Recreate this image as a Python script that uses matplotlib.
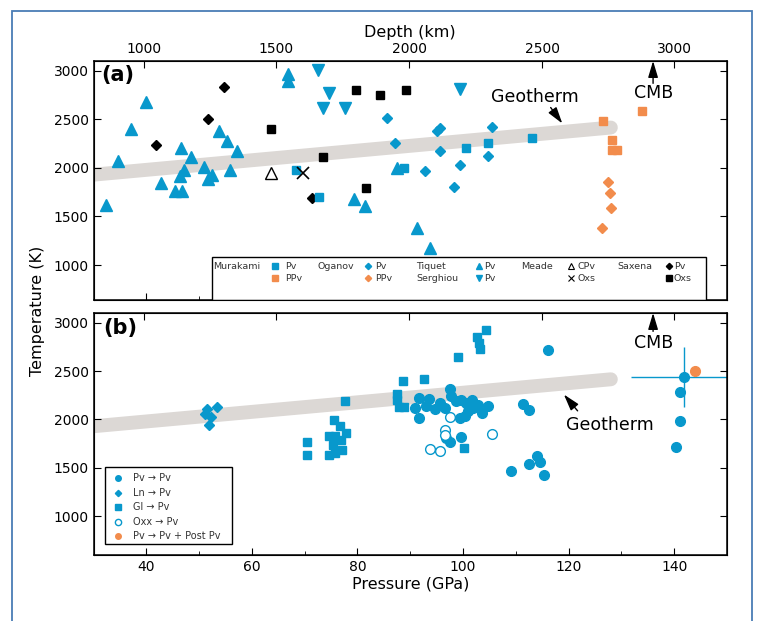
import matplotlib
matplotlib.use('Agg')
import matplotlib.pyplot as plt
from matplotlib.patches import Rectangle
from matplotlib.ticker import MultipleLocator

plt.rcParams['font.family'] = ['DejaVu Sans']

BLUE = '#0898cc'
ORANGE = '#f28c4c'
BAND = '#dcd8d5'

# depth axis (km) and the pressure it sits at
depth_km = [1000, 1500, 2000, 2500, 3000]
depth_gpa = [39.6, 64.6, 89.8, 115.0, 140.0]

geotherm_p = [30, 128]
geotherm_t = [1930, 2415]

# ---- panel (a) ----
murakami_pv_p = [68.4, 72.7, 88.9, 100.5, 104.7, 113.0]
murakami_pv_t = [1975, 1702, 2000, 2204, 2252, 2303]
murakami_ppv_p = [126.5, 133.9, 128.3, 128.2, 129.2]
murakami_ppv_t = [2483, 2586, 2284, 2187, 2187]

oganov_pv_p = [85.6, 87.1, 95.0, 95.6, 95.6, 92.8, 99.4, 98.3, 105.5, 104.7]
oganov_pv_t = [2511, 2252, 2380, 2410, 2177, 1965, 2027, 1808, 2416, 2126]
oganov_ppv_p = [127.5, 127.8, 128.0, 126.4]
oganov_ppv_t = [1850, 1742, 1589, 1380]

tiquet_pv_p = [32.3, 34.6, 37.1, 39.9, 42.7, 45.4, 46.7, 46.5, 47.1, 46.4, 48.4, 51.0, 51.7,
               52.5, 53.7, 55.2, 55.8, 57.2, 66.9, 66.9, 87.4, 79.3, 81.4, 91.3, 93.7]
tiquet_pv_t = [1617, 2075, 2403, 2675, 1845, 1760, 1760, 2204, 1983, 1914, 2109, 2013, 1890,
               1924, 2375, 2280, 1979, 2170, 2962, 2894, 2000, 1681, 1603, 1384, 1179]
serghiou_pv_p = [72.5, 74.6, 73.5, 77.6, 99.4]
serghiou_pv_t = [3007, 2768, 2614, 2614, 2808]

meade_cpv_p = [63.6]
meade_cpv_t = [1942]
meade_oxs_p = [69.7]
meade_oxs_t = [1942]

saxena_pv_p = [41.9, 51.6, 54.7, 71.3]
saxena_pv_t = [2232, 2508, 2836, 1692]
saxena_oxs_p = [63.6, 79.7, 84.2, 89.1, 73.5, 81.6]
saxena_oxs_t = [2403, 2802, 2751, 2802, 2109, 1794]

# ---- panel (b) ----
pv_pv_p = [90.8, 91.6, 91.6, 93.5, 93.0, 94.6, 95.6, 96.5, 97.6, 97.8, 98.7, 99.7, 100.6,
           101.6, 100.9, 101.9, 102.8, 103.5, 104.7, 99.4, 100.4, 99.6, 97.6, 96.8,
           109.0, 112.4, 116.0, 111.3, 112.4, 114.0, 114.5, 115.3,
           141.9, 141.1, 141.1, 140.3]
pv_pv_t = [2120, 2224, 2017, 2213, 2137, 2103, 2172, 2120, 2310, 2240, 2189, 2206, 2172,
           2206, 2085, 2120, 2154, 2069, 2144, 2017, 2034, 1820, 1764, 1810,
           1470, 1545, 2714, 2160, 2101, 1619, 1560, 1430,
           2441, 2286, 1985, 1713]
ln_pv_p = [51.4, 53.3, 52.2, 51.8, 51.2]
ln_pv_t = [2103, 2130, 2030, 1945, 2060]
gl_pv_p = [70.5, 70.5, 75.6, 76.6, 77.9, 74.6, 75.7, 76.8, 75.4, 77.0, 74.6, 75.7, 77.6,
           88.6, 92.6, 99.0, 102.6, 103.0, 103.2, 104.3, 100.2, 87.4, 87.5, 88.8, 87.8]
gl_pv_t = [1766, 1630, 1992, 1937, 1862, 1826, 1826, 1792, 1740, 1689, 1637, 1654, 2189,
           2396, 2413, 2648, 2855, 2793, 2731, 2920, 1706, 2265, 2200, 2130, 2130]
oxx_pv_p = [97.6, 96.5, 96.5, 93.7, 95.7, 105.5]
oxx_pv_t = [2027, 1896, 1844, 1696, 1671, 1851]
pv_ppv_p = [144.0]
pv_ppv_t = [2497]

# error bar on the highest-pressure Pv point
err_p, err_t = 141.9, 2441
err_dp, err_dt = 10, 310


fig = plt.figure(figsize=(7.59, 6.21), dpi=100)
ax_a = fig.add_axes([0.1233, 0.5169, 0.8345, 0.3849])
ax_b = fig.add_axes([0.1233, 0.1063, 0.8345, 0.3897])

# blue frame round the figure
fig.patches.append(Rectangle((11.7 / 759, -0.02), (752 - 11.7) / 759, 1 - 11 / 621 + 0.02,
                             transform=fig.transFigure, fill=False, ec='#4a7db5', lw=1.3))

for ax, ylo in [(ax_a, 640), (ax_b, 600)]:
    ax.plot(geotherm_p, geotherm_t, color=BAND, lw=10, solid_capstyle='round', zorder=1)
    ax.set_xlim(30, 150)
    ax.set_ylim(ylo, 3100)
    ax.set_yticks([1000, 1500, 2000, 2500, 3000])
    ax.xaxis.set_major_locator(MultipleLocator(20))
    ax.xaxis.set_minor_locator(MultipleLocator(10))
    ax.tick_params(which='both', direction='in', right=True, labelsize=10)
    ax.tick_params(which='major', length=5)
    ax.tick_params(which='minor', length=3)
    for s in ax.spines.values():
        s.set_linewidth(1.1)
    top = ax.twiny()
    top.set_xlim(30, 150)
    top.set_xticks(depth_gpa)
    top.tick_params(direction='in', length=5, labelsize=10)
    if ax is ax_a:
        top.set_xticklabels([str(d) for d in depth_km])
        top.set_xlabel('Depth (km)', fontsize=11.5, labelpad=4)
    else:
        top.set_xticklabels([])

ax_a.tick_params(labelbottom=False)

# panel (a) points
ms = dict(ls='none', zorder=3)
ax_a.plot(tiquet_pv_p, tiquet_pv_t, '^', color=BLUE, ms=8, **ms)
ax_a.plot(serghiou_pv_p, serghiou_pv_t, 'v', color=BLUE, ms=8, **ms)
ax_a.plot(oganov_pv_p, oganov_pv_t, 'D', color=BLUE, ms=5.5, **ms)
ax_a.plot(oganov_ppv_p, oganov_ppv_t, 'D', color=ORANGE, ms=5.5, **ms)
ax_a.plot(saxena_pv_p, saxena_pv_t, 'D', color='black', ms=5.5, **ms)
ax_a.plot(saxena_oxs_p, saxena_oxs_t, 's', color='black', ms=6, **ms)
ax_a.plot(murakami_pv_p, murakami_pv_t, 's', color=BLUE, ms=6, **ms)
ax_a.plot(murakami_ppv_p, murakami_ppv_t, 's', color=ORANGE, ms=6, **ms)
ax_a.plot(meade_cpv_p, meade_cpv_t, '^', mfc='white', mec='black', mew=1, ms=8, **ms)
ax_a.plot(meade_oxs_p, meade_oxs_t, 'x', color='black', mew=1.2, ms=8, **ms)

# panel (b) points
ax_b.errorbar([err_p], [err_t], xerr=err_dp, yerr=err_dt, fmt='none', ecolor=BLUE,
              elinewidth=1, capsize=0, zorder=2)
ax_b.plot(gl_pv_p, gl_pv_t, 's', color=BLUE, ms=5.5, **ms)
ax_b.plot(ln_pv_p, ln_pv_t, 'D', color=BLUE, ms=5.5, **ms)
ax_b.plot(pv_pv_p, pv_pv_t, 'o', color=BLUE, ms=7, **ms)
ax_b.plot(oxx_pv_p, oxx_pv_t, 'o', mfc='white', mec=BLUE, mew=1, ms=7, **ms)
ax_b.plot(pv_ppv_p, pv_ppv_t, 'o', color=ORANGE, ms=7, **ms)

# annotations
arr = dict(arrowstyle='-|>,head_length=1.0,head_width=0.3', color='black', lw=1,
           shrinkA=0, shrinkB=0)
ax_a.annotate('', xy=(136, 3100), xytext=(136, 2870), arrowprops=arr)
ax_a.text(136.1, 2767, 'CMB', fontsize=12.5, ha='center', va='center')
ax_a.annotate('', xy=(118.8, 2457), xytext=(116.6, 2621), arrowprops=arr)
ax_a.text(113.6, 2734, 'Geotherm', fontsize=12.5, ha='center', va='center')
ax_b.annotate('', xy=(136, 3100), xytext=(136, 2910), arrowprops=arr)
ax_b.text(136.1, 2786, 'CMB', fontsize=12.5, ha='center', va='center')
ax_b.annotate('', xy=(119.1, 2258), xytext=(121.7, 2089), arrowprops=arr)
ax_b.text(127.8, 1942, 'Geotherm', fontsize=12.5, ha='center', va='center')

ax_a.text(0.0385, 0.941, '(a)', transform=ax_a.transAxes, fontsize=15, fontweight='bold',
          ha='center', va='center')
ax_b.text(0.042, 0.938, '(b)', transform=ax_b.transAxes, fontsize=15, fontweight='bold',
          ha='center', va='center')

# legend table in (a)
LC = '#333333'
ax_a.add_patch(Rectangle((0.1865, 0.0), 0.7805, 0.18, transform=ax_a.transAxes,
                         fc='white', ec='black', lw=1, zorder=5))
r1, r2 = 0.142, 0.092
lt = dict(transform=ax_a.transAxes, fontsize=6.8, color=LC, va='center', zorder=6)
lm = dict(transform=ax_a.transAxes, ls='none', zorder=6, clip_on=False)
ax_a.text(0.189, r1, 'Murakami', **lt)
ax_a.plot(0.286, r1, 's', color=BLUE, ms=4, **lm)
ax_a.text(0.302, r1, 'Pv', **lt)
ax_a.plot(0.286, r2, 's', color=ORANGE, ms=4, **lm)
ax_a.text(0.302, r2, 'PPv', **lt)
ax_a.text(0.354, r1, 'Oganov', **lt)
ax_a.plot(0.433, r1, 'D', color=BLUE, ms=3.2, **lm)
ax_a.text(0.444, r1, 'Pv', **lt)
ax_a.plot(0.433, r2, 'D', color=ORANGE, ms=3.2, **lm)
ax_a.text(0.444, r2, 'PPv', **lt)
ax_a.text(0.509, r1, 'Tiquet', **lt)
ax_a.text(0.509, r2, 'Serghiou', **lt)
ax_a.plot(0.609, r1, '^', color=BLUE, ms=4.5, **lm)
ax_a.text(0.617, r1, 'Pv', **lt)
ax_a.plot(0.609, r2, 'v', color=BLUE, ms=4.5, **lm)
ax_a.text(0.617, r2, 'Pv', **lt)
ax_a.text(0.675, r1, 'Meade', **lt)
ax_a.plot(0.754, r1, '^', mfc='white', mec='black', mew=0.8, ms=4.5, **lm)
ax_a.text(0.764, r1, 'CPv', **lt)
ax_a.plot(0.754, r2, 'x', color='black', mew=0.8, ms=4.5, **lm)
ax_a.text(0.764, r2, 'Oxs', **lt)
ax_a.text(0.827, r1, 'Saxena', **lt)
ax_a.plot(0.908, r1, 'D', color='black', ms=3.2, **lm)
ax_a.text(0.916, r1, 'Pv', **lt)
ax_a.plot(0.908, r2, 's', color='black', ms=4, **lm)
ax_a.text(0.916, r2, 'Oxs', **lt)

# legend in (b)
ax_b.add_patch(Rectangle((0.018, 0.045), 0.2, 0.319, transform=ax_b.transAxes,
                         fc='white', ec='black', lw=1, zorder=5))
lt_b = dict(transform=ax_b.transAxes, fontsize=7, color=LC, va='center', zorder=6)
lm_b = dict(transform=ax_b.transAxes, ls='none', zorder=6, clip_on=False)
rows = [0.317, 0.255, 0.2, 0.138, 0.079]
ax_b.plot(0.039, rows[0], 'o', color=BLUE, ms=4, **lm_b)
ax_b.text(0.0627, rows[0], 'Pv → Pv', **lt_b)
ax_b.plot(0.039, rows[1], 'D', color=BLUE, ms=3.2, **lm_b)
ax_b.text(0.0627, rows[1], 'Ln → Pv', **lt_b)
ax_b.plot(0.039, rows[2], 's', color=BLUE, ms=4, **lm_b)
ax_b.text(0.0627, rows[2], 'Gl → Pv', **lt_b)
ax_b.plot(0.039, rows[3], 'o', mfc='white', mec=BLUE, mew=1, ms=4.5, **lm_b)
ax_b.text(0.0627, rows[3], 'Oxx → Pv', **lt_b)
ax_b.plot(0.039, rows[4], 'o', color=ORANGE, ms=4, **lm_b)
ax_b.text(0.0627, rows[4], 'Pv → Pv + Post Pv', **lt_b)

fig.text(0.05, 0.5, 'Temperature (K)', rotation=90, fontsize=11.5, ha='center', va='center')
ax_b.set_xlabel('Pressure (GPa)', fontsize=11.5, labelpad=2)

fig.savefig('out.png', dpi=100)
